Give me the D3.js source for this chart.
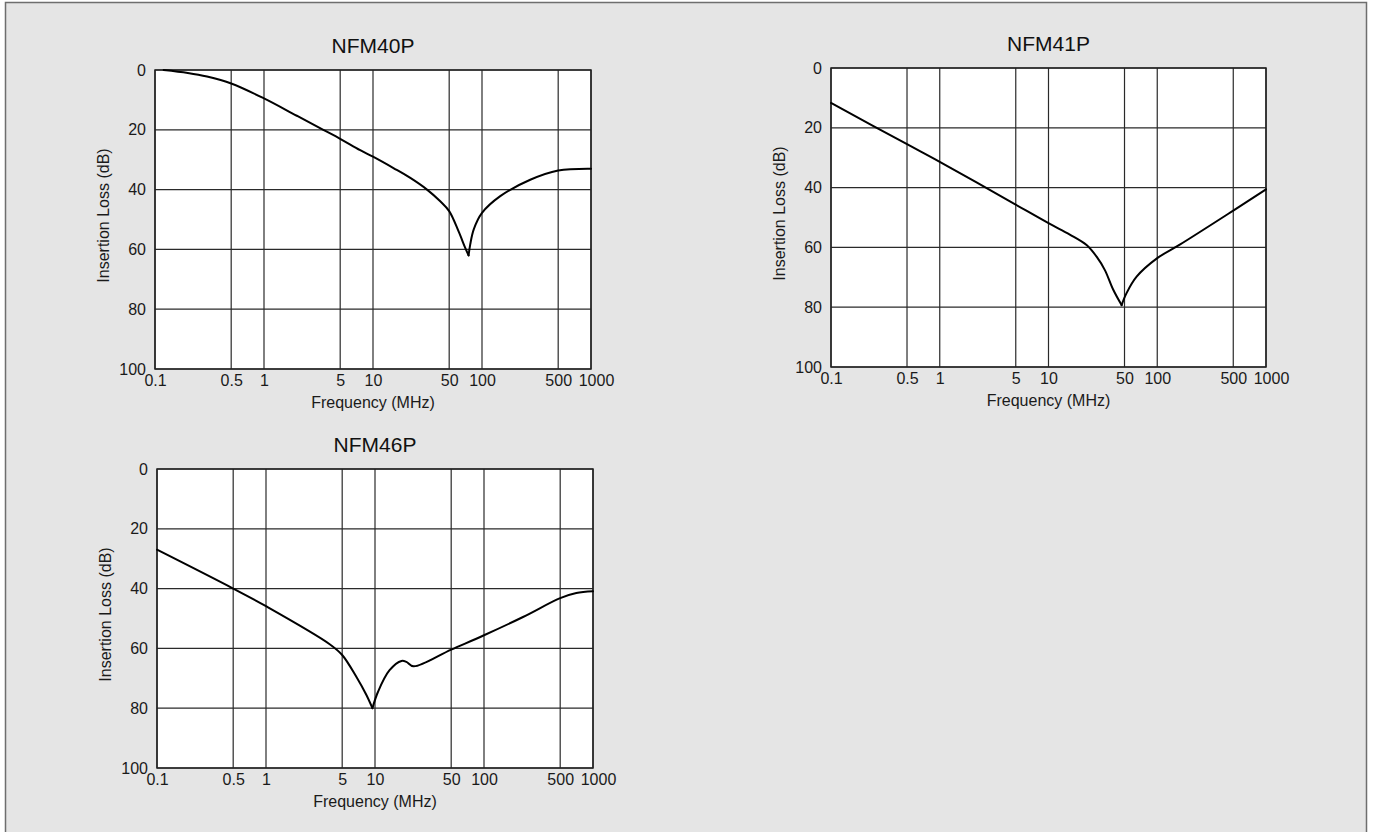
<!DOCTYPE html>
<html>
<head>
<meta charset="utf-8">
<script src="https://cdn.jsdelivr.net/npm/d3@7"></script>
<style>
  html, body { margin: 0; padding: 0; background: #ffffff; }
  svg { display: block; font-family: "Liberation Sans", Arial, sans-serif; }
</style>
</head>
<body>
<svg id="chart" width="1374" height="832"></svg>
<script>
// ---- Data ----
const freqTicks = [0.1, 0.5, 1, 5, 10, 50, 100, 500, 1000];
const freqTickLabels = ["0.1", "0.5", "1", "5", "10", "50", "100", "500", "1000"];
const lossTicks = [0, 20, 40, 60, 80, 100];
const lossTickLabels = ["0", "20", "40", "60", "80", "100"];

const chartTitles = ["NFM40P", "NFM41P", "NFM46P"];
const xAxisTitle = "Frequency (MHz)";
const yAxisTitle = "Insertion Loss (dB)";

// NFM40P
const nfm40pFreq = [0.12, 0.2, 0.3, 0.5, 1, 2, 3.5, 5, 7.63, 10, 15.4, 22, 31.3, 41.4, 50, 61, 70, 75.3, 78, 84, 100, 147, 277, 500, 1000];
const nfm40pLoss = [0, 1.0, 2.2, 4.5, 9.5, 15.3, 20, 23, 26.8, 29.0, 32.8, 36.1, 40, 43.9, 47.2, 54, 59.4, 62, 58.3, 53.3, 47.8, 42.2, 36.7, 33.6, 33];

// NFM41P
const nfm41pFreq = [0.1, 0.5, 1, 4.42, 10, 15.7, 22.4, 27.7, 33, 39.3, 47, 52.2, 64.6, 100, 161, 500, 1000];
const nfm41pLoss = [11.7, 25.5, 31.4, 44.6, 51.9, 55.7, 59.2, 63.1, 67.6, 74.1, 79.3, 75.3, 69.8, 63.6, 59.1, 47.7, 40.6];

// NFM46P
const nfm46pFreq = [0.1, 0.5, 1, 3.84, 5, 6.74, 8.34, 9.47, 10.66, 13.6, 17.5, 19.4, 22.6, 50, 100, 228, 500, 703, 1000];
const nfm46pLoss = [27, 40, 45.9, 58.6, 62.2, 69.5, 75.6, 80, 74.5, 67.3, 64.2, 64.5, 66.0, 60.4, 55.6, 49.5, 43.2, 41.5, 40.9];

// ---- Layout ----
const svg = d3.select("#chart");
svg.append("rect")
  .attr("x", 0).attr("y", 0).attr("width", 1374).attr("height", 832)
  .attr("fill", "#ffffff");
svg.append("rect")
  .attr("x", 5.5).attr("y", 2.5).attr("width", 1361).attr("height", 850)
  .attr("fill", "#e5e5e5").attr("stroke", "#6e6e6e").attr("stroke-width", 1.5);

const panels = [
  { title: chartTitles[0], freq: nfm40pFreq, loss: nfm40pLoss, left: 155, top: 70, width: 436, height: 299 },
  { title: chartTitles[1], freq: nfm41pFreq, loss: nfm41pLoss, left: 831, top: 68, width: 435, height: 299 },
  { title: chartTitles[2], freq: nfm46pFreq, loss: nfm46pLoss, left: 157, top: 469, width: 436, height: 299 }
];

panels.forEach(p => {
  const g = svg.append("g").attr("transform", `translate(${p.left},${p.top})`);
  const x = d3.scaleLog().domain([0.1, 1000]).range([0, p.width]);
  const y = d3.scaleLinear().domain([0, 100]).range([0, p.height]);

  g.append("rect").attr("width", p.width).attr("height", p.height).attr("fill", "#ffffff");

  g.append("g").selectAll("line").data(freqTicks).join("line")
    .attr("x1", d => x(d)).attr("x2", d => x(d))
    .attr("y1", 0).attr("y2", p.height)
    .attr("stroke", "#2a2a2a").attr("stroke-width", 1.2);
  g.append("g").selectAll("line").data(lossTicks).join("line")
    .attr("x1", 0).attr("x2", p.width)
    .attr("y1", d => y(d)).attr("y2", d => y(d))
    .attr("stroke", "#2a2a2a").attr("stroke-width", 1.2);

  g.append("rect").attr("width", p.width).attr("height", p.height)
    .attr("fill", "none").attr("stroke", "#222").attr("stroke-width", 1.5);

  const xAxis = d3.axisBottom(x).tickValues(freqTicks)
    .tickFormat((d, i) => freqTickLabels[i]).tickSize(0).tickPadding(6);
  const xg = g.append("g").attr("transform", `translate(0,${p.height})`).call(xAxis)
    .attr("font-size", 16).attr("font-family", "Liberation Sans, Arial, sans-serif");
  xg.select(".domain").remove();
  xg.selectAll("text").attr("fill", "#1a1a1a")
    .attr("dx", (d, i) => i === freqTicks.length - 1 ? 5 : 0);

  const yAxis = d3.axisLeft(y).tickValues(lossTicks)
    .tickFormat((d, i) => lossTickLabels[i]).tickSize(0).tickPadding(9);
  const yg = g.append("g").call(yAxis)
    .attr("font-size", 16).attr("font-family", "Liberation Sans, Arial, sans-serif");
  yg.select(".domain").remove();
  yg.selectAll("text").attr("fill", "#1a1a1a");

  // curve: split at the resonance minimum so the notch stays sharp
  const pts = p.freq.map((f, i) => [f, p.loss[i]]);
  const iMin = d3.maxIndex(p.loss);
  const line = d3.line().x(d => x(d[0])).y(d => y(d[1])).curve(d3.curveCatmullRom.alpha(0.5));
  [pts.slice(0, iMin + 1), pts.slice(iMin)].forEach(seg => {
    g.append("path").datum(seg).attr("d", line)
      .attr("fill", "none").attr("stroke", "#000").attr("stroke-width", 2)
      .attr("stroke-linejoin", "round").attr("stroke-linecap", "round");
  });

  g.append("text").attr("x", p.width / 2).attr("y", -17)
    .attr("text-anchor", "middle").attr("font-size", 21).attr("fill", "#111")
    .text(p.title);
  g.append("text").attr("x", p.width / 2).attr("y", p.height + 39)
    .attr("text-anchor", "middle").attr("font-size", 16).attr("fill", "#1a1a1a")
    .text(xAxisTitle);
  g.append("text")
    .attr("transform", `translate(${-52},${p.height / 2 - 4}) rotate(-90)`)
    .attr("text-anchor", "middle").attr("dominant-baseline", "central")
    .attr("font-size", 16).attr("fill", "#1a1a1a")
    .text(yAxisTitle);
});
</script>
</body>
</html>
